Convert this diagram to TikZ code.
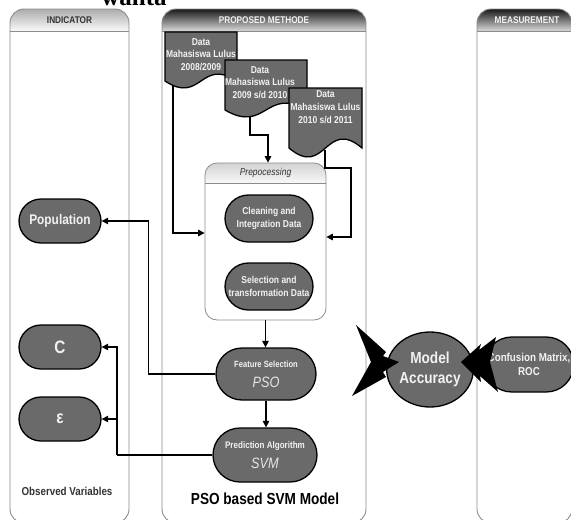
\documentclass[tikz,border=0pt]{standalone}
\usepackage{fontspec}
\setmainfont{Liberation Sans}[FakeStretch=0.85]
\newfontfamily\wantafont{Liberation Serif}
\usetikzlibrary{shapes.geometric,shapes.misc,arrows.meta}
\definecolor{nodefill}{HTML}{6A6A6A}
\definecolor{panelline}{HTML}{8C8C8C}
\definecolor{txtlight}{HTML}{F2F2F2}
\definecolor{txtdark}{HTML}{333333}
\newcommand\myfs[2]{\fontsize{#1}{#2}\selectfont}
\newcommand\mypanel[4]{%
  \begin{scope}
    \clip[rounded corners=14pt] (#1,9) rectangle (#2,80);
    \shade[top color=#3, bottom color=#4] (#1,9) rectangle (#2,31);
  \end{scope}
  \draw[panelline, line width=0.9pt] (#1,31) -- (#2,31);
  \draw[panel] (#1,9) rectangle (#2,523);
}
\newcommand\mydoc[5]{%
  \filldraw[docshape] (#1,#2) -- (#3,#2) -- (#3,#4)
    .. controls ({(#1+#3)/2},{#4-#5}) and ({(#1+#3)/2},{#4+#5}) .. (#1,#4) -- cycle;}
\tikzset{
  panel/.style={draw=panelline, line width=0.9pt, rounded corners=14pt},
  pill/.style={rounded rectangle, draw=black, line width=1.3pt, fill=nodefill,
    text=txtlight, align=center, inner sep=1pt},
  docshape/.style={draw=black, line width=1.3pt, fill=nodefill},
  doctext/.style={text=txtlight, align=center, inner sep=0pt,
    font=\bfseries\myfs{10}{12.8}},
  hdr/.style={inner sep=0pt, font=\bfseries\myfs{9.7}{11}},
  conn/.style={draw=black, line width=1.3pt},
  arr/.style={conn, -{Triangle[length=6.5pt,width=6.5pt]}},
}
\begin{document}
\begin{tikzpicture}[x=1pt,y=-1pt]
\useasboundingbox (0,0) rectangle (571,520);
\fill[white] (0,0) rectangle (571,520);

% fragment of text above
\node[anchor=base, inner sep=0pt, font=\wantafont\bfseries\myfs{25}{25}] (wanta) at (134,5) {wanta};

% panels
\mypanel{10}{129}{gray!65}{gray!4}
\mypanel{162}{366}{black!90}{gray!30}
\mypanel{477}{572}{black!90}{gray!30}
\node[hdr, text=txtdark] (h1) at (69.5,20.5) {INDICATOR};
\node[hdr, text=txtlight] (h2) at (264,20.5) {PROPOSED METHODE};
\node[hdr, text=txtlight] (h3) at (527,20.5) {MEASUREMENT};

% preprocessing container
\fill[white, rounded corners=12pt] (205,163) rectangle (326,320);
\begin{scope}
  \clip[rounded corners=12pt] (205,163) rectangle (326,240);
  \shade[top color=gray!35, bottom color=gray!5] (205,163) rectangle (326,183);
\end{scope}
\draw[panelline, line width=0.8pt] (205,183) -- (326,183);
\node[draw=panelline, line width=0.8pt, rounded corners=12pt, minimum width=121pt,
  minimum height=157pt, inner sep=0pt] (pre) at (265.5,241.5) {};
\node[inner sep=0pt, text=txtdark, font=\itshape\myfs{10}{12}] (pret) at (265.5,173) {Prepocessing};

% process nodes
\node[pill, minimum width=90pt, minimum height=47pt, font=\bfseries\myfs{10}{13}] (clean) at (269,218.5)
  {Cleaning and\\Integration Data};
\node[pill, minimum width=90pt, minimum height=47pt, font=\bfseries\myfs{10}{13}] (sel) at (269,286.5)
  {Selection and\\transformation Data};
\node[pill, minimum width=102pt, minimum height=52pt, font=\myfs{15}{17}] (fs) at (266,374)
  {{\bfseries\myfs{9}{11}Feature Selection}\\[3pt]{\itshape\color{gray!20}PSO}};
\node[pill, minimum width=106pt, minimum height=54pt, font=\myfs{15}{17}] (pa) at (265,455)
  {{\bfseries\myfs{9.5}{11}Prediction Algorithm}\\[3pt]{\itshape\color{gray!20}SVM}};
\node[inner sep=0pt, font=\bfseries\myfs{16}{18}] (model) at (265,499) {PSO based SVM Model};

% indicator nodes
\node[pill, minimum width=84pt, minimum height=44pt, font=\bfseries\myfs{14}{16}] (pop) at (60,221) {Population};
\node[pill, minimum width=84pt, minimum height=44pt, font=\bfseries\myfs{18}{18}] (c) at (60,347) {C};
\node[pill, minimum width=84pt, minimum height=44pt, font=\bfseries\myfs{18}{18}] (eps) at (60,419) {ε};
\node[inner sep=0pt, text=txtdark, font=\bfseries\myfs{11.5}{13}] (obs) at (67,491) {Observed Variables};

% measurement
\node[ellipse, draw=black, line width=1.3pt, fill=nodefill, text=txtlight, align=center,
  minimum width=64pt, minimum height=75pt, inner sep=0pt, font=\bfseries\myfs{16}{20}] (ma) at (430,369.5)
  {Model\\Accuracy};
\node[pill, minimum width=84pt, minimum height=55pt, font=\bfseries\myfs{11.5}{14}] (cm) at (529,364.5)
  {Confusion Matrix,\\ROC};

% big arrows
\fill[black] (356,325) -- (386,352) -- (383,356) -- (399,362) -- (383,372) -- (386,377)
  -- (352,396) -- (371,362) -- cycle;
\fill[black] (461,362) -- (481,344) -- (479,350) -- (496,337) -- (490,362) -- (498,392)
  -- (480,376) -- (481,382) -- cycle;

% connectors
\coordinate (d1s) at (173,84);
\coordinate (d2s) at (250,116);
\coordinate (d2k) at (268,135);
\coordinate (d3s) at (325,150);
\coordinate (d3k) at (351,168);
\coordinate (cj) at (117,455);
\draw[arr] (d1s) |- ([yshift=8.5pt]pre.west);
\draw[arr] (d2s) |- (d2k) -- (d2k |- pre.north);
\draw[arr] (d3s) |- (d3k) |- ([yshift=4.5pt]pre.east);
\draw[arr] (pre.south) -- (pre.south |- fs.north);
\draw[arr] (fs.south) -- (fs.south |- pa.north);
\draw[arr] (fs.west) -- ++(-67,0) |- (pop.east);
\draw[conn] (pa.west) -- (cj);
\draw[arr] (cj) |- (c.east);
\draw[arr] (cj) |- (eps.east);

% data documents
\mydoc{165}{32}{237}{81}{24}
\node[doctext] (d1) at (201,54.5) {Data\\Mahasiswa Lulus\\2008/2009};
\mydoc{225}{60}{307}{110}{24}
\node[doctext] (d2) at (260,82.5) {Data\\Mahasiswa Lulus\\2009 s/d 2010};
\mydoc{289}{88}{362}{148}{31}
\node[doctext] (d3) at (325.5,107) {Data\\Mahasiswa Lulus\\2010 s/d 2011};
\end{tikzpicture}
\end{document}
